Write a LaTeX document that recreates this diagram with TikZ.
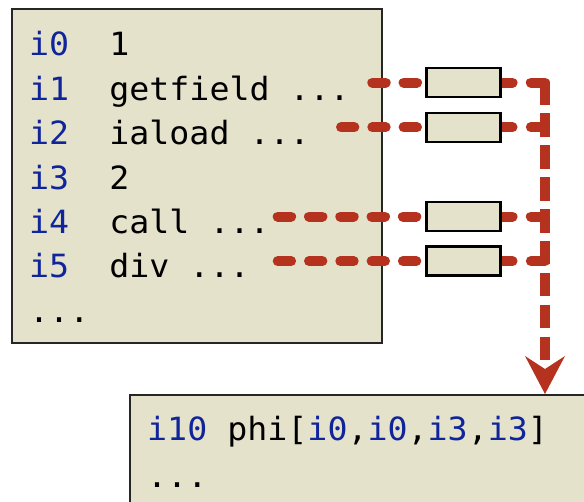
\documentclass[tikz,border=0pt]{standalone}
\usepackage{fontspec}
\usetikzlibrary{arrows.meta}
\newfontfamily\codefont{DejaVu Sans Mono}[FakeStretch=1.04]
\definecolor{boxfill}{RGB}{228,226,203}
\definecolor{regblue}{RGB}{16,36,156}
\definecolor{linkred}{RGB}{181,51,30}
\newcommand{\reg}[1]{{\color{regblue}#1}}

\begin{document}
\begin{tikzpicture}[x=1pt,y=-1pt,
  codebox/.style={draw=black!85, line width=2pt, fill=boxfill, inner sep=0pt, anchor=north west},
  slot/.style={draw=black, line width=2.5pt, fill=boxfill, minimum width=74pt, minimum height=29pt, inner sep=0pt},
  link/.style={draw=linkred, line width=10pt, line cap=round},
  feed/.style={link, dash pattern=on 13.4pt off 17.9pt},
  merge/.style={link, dash pattern=on 11pt off 18.3pt on 100pt},
  code/.style={font=\codefont\fontsize{32pt}{38pt}\selectfont, anchor=base west, inner sep=0pt}]

\useasboundingbox (0,0) rectangle (584,501);
\clip (0,0) rectangle (584,501);

% instruction listings
\node[codebox, minimum width=370.5pt, minimum height=333.5pt] (src) at (10.5,8) {};
\node[codebox, minimum width=480pt, minimum height=140pt] (lower) at (128.5,394) {};

% value slots
\node[slot] (r1) at (463.3,82.6) {};
\node[slot] (r2) at (463.3,127.3) {};
\node[slot] (r4) at (463.3,216.6) {};
\node[slot] (r5) at (463.3,261.1) {};

% free ends of the feeding connectors and the collecting trunk
\coordinate (s1) at (372.3,82.6);
\coordinate (s2) at (341,127.3);
\coordinate (s4) at (277.7,216.6);
\coordinate (s5) at (277.7,261.1);
\coordinate (jx) at (545,0);
\coordinate (jtop) at (r1.east -| jx);

% instruction -> slot
\draw[feed] (s1) -- (r1.west);
\draw[feed] (s2) -- (r2.west);
\draw[feed] (s4) -- (r4.west);
\draw[feed] (s5) -- (r5.west);

% slot -> trunk
\draw[merge] (r1.east) -- (jtop);
\draw[merge] (r2.east) -- (r2.east -| jx);
\draw[merge] (r4.east) -- (r4.east -| jx);
\draw[merge] (r5.east) -- (r5.east -| jx);

% trunk down to the phi
\draw[link, line cap=butt, dash pattern=on 23.5pt off 8.4pt, dash phase=1.2pt,
  -{Stealth[length=38pt,width=40pt,inset=13pt,line width=0pt]}] (jtop) -- (jtop |- lower.north);

% slots on top of the connector ends
\node[slot] at (r1) {};
\node[slot] at (r2) {};
\node[slot] at (r4) {};
\node[slot] at (r5) {};

% listing text
\node[code] (l0) at (29,55.5) {\reg{i0}\ \ 1};
\node[code] (l1) at (29,100) {\reg{i1}\ \ getfield ...};
\node[code] (l2) at (29,144.5) {\reg{i2}\ \ iaload ...};
\node[code] (l3) at (29,189) {\reg{i3}\ \ 2};
\node[code] (l4) at (29,233.3) {\reg{i4}\ \ call ...};
\node[code] (l5) at (29,277.7) {\reg{i5}\ \ div ...};
\node[code] (l6) at (29,322) {...};

\node[code] (m0) at (147,440) {\reg{i10} phi[\reg{i0},\reg{i0},\reg{i3},\reg{i3}]};
\node[code] (m1) at (147,487) {...};
\end{tikzpicture}
\end{document}
